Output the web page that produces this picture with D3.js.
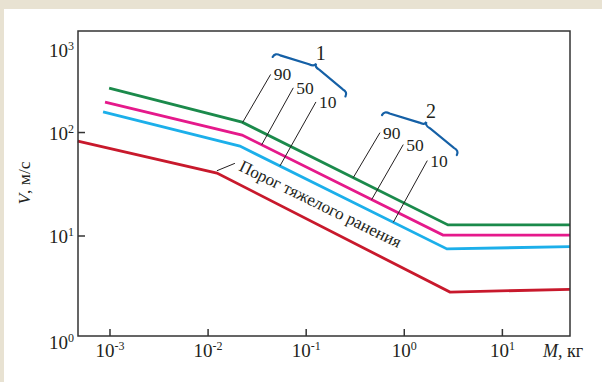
<!DOCTYPE html>
<html>
<head>
<meta charset="utf-8">
<script src="https://cdn.jsdelivr.net/npm/d3@7"></script>
<style>
  body { margin: 0; background: #e8e2d2; }
  svg { display: block; }
  text { font-family: "Liberation Serif", "Times New Roman", serif; fill: #231f20; }
</style>
</head>
<body>
<svg id="chart" width="602" height="382"></svg>
<script>
// mass, kg (x) and speed, m/s (y) for each curve
const mass90 = [0.00098, 0.0222, 2.79, 48.9];
const speed90 = [269, 126, 12.8, 12.8];
const mass50 = [0.00089, 0.0222, 2.48, 48.9];
const speed50 = [197, 94.6, 10.2, 10.2];
const mass10 = [0.00085, 0.0211, 2.72, 48.9];
const speed10 = [158, 74, 7.5, 7.9];
const massThr = [0.00047, 0.0123, 2.92, 48.9];
const speedThr = [82.8, 40.6, 2.87, 3.05];

const xTicks = [1e-3, 1e-2, 1e-1, 1, 10];
const xTickExp = ["-3", "-2", "-1", "0", "1"];
const yTicks = [1, 10, 100, 1000];
const yTickExp = ["0", "1", "2", "3"];

const leaderLabels = ["90", "50", "10"];
const group1Mass = [0.0225, 0.0352, 0.054];
const group2Mass = [0.302, 0.465, 0.773];
const groupNames = ["1", "2"];
const thresholdLabel = "Порог тяжелого ранения";

const margin = {top: 31, right: 32, bottom: 46, left: 78};
const W = 602, H = 382;
const right = W - margin.right, bottom = H - margin.bottom;

const svg = d3.select("#chart");

svg.append("rect").attr("x", 4).attr("y", 9).attr("width", W - 4).attr("height", H - 9)
   .attr("fill", "#ffffff");

const x = d3.scaleLog().domain([4.72e-4, 48.9]).range([margin.left, right]);
const y = d3.scaleLog().domain([1.08, 958]).range([bottom, margin.top]);

const series = [
  {m: mass90, v: speed90, color: "#1b8a4b"},
  {m: mass50, v: speed50, color: "#e5198b"},
  {m: mass10, v: speed10, color: "#1cafea"},
  {m: massThr, v: speedThr, color: "#c8192c"}
];

const line = d3.line().x(d => x(d[0])).y(d => y(d[1]));

svg.selectAll("path.curve")
   .data(series)
   .join("path")
   .attr("class", "curve")
   .attr("d", s => line(d3.zip(s.m, s.v)))
   .attr("fill", "none")
   .attr("stroke", s => s.color)
   .attr("stroke-width", 2.8);

// frame
svg.append("rect")
   .attr("x", margin.left).attr("y", margin.top)
   .attr("width", right - margin.left).attr("height", bottom - margin.top)
   .attr("fill", "none").attr("stroke", "#333").attr("stroke-width", 1.5);

// x ticks (inside) + labels
svg.selectAll("line.xtick").data(xTicks).join("line")
   .attr("x1", d => x(d)).attr("x2", d => x(d))
   .attr("y1", bottom).attr("y2", bottom - 7)
   .attr("stroke", "#333").attr("stroke-width", 1.5);

const xl = svg.selectAll("text.xlab").data(xTicks).join("text")
   .attr("class", "xlab")
   .attr("x", d => x(d)).attr("y", bottom + 21)
   .attr("text-anchor", "middle")
   .style("font-size", "19px");
xl.append("tspan").text("10");
xl.append("tspan").text((d, i) => xTickExp[i]).attr("dy", -7).style("font-size", "12px");

// y ticks, only the inner decades get a mark
svg.selectAll("line.ytick").data(yTicks.filter(d => y(d) < bottom - 1 && y(d) > margin.top + 1)).join("line")
   .attr("x1", margin.left).attr("x2", margin.left + 7)
   .attr("y1", d => y(d)).attr("y2", d => y(d))
   .attr("stroke", "#333").attr("stroke-width", 1.5);

const yl = svg.selectAll("text.ylab").data(yTicks).join("text")
   .attr("class", "ylab")
   .attr("x", margin.left - 4)
   .attr("y", d => y(d) > bottom ? bottom + 13 : Math.max(y(d) + 7, margin.top + 26))
   .attr("text-anchor", "end")
   .style("font-size", "19px");
yl.append("tspan").text("10");
yl.append("tspan").text((d, i) => yTickExp[i]).attr("dy", -7).style("font-size", "12px");

// axis titles
const yt = svg.append("text")
   .attr("transform", "translate(30,183) rotate(-90)")
   .attr("text-anchor", "middle")
   .style("font-size", "17.5px");
yt.append("tspan").text("V").style("font-style", "italic");
yt.append("tspan").text(", м/с");

const xt = svg.append("text")
   .attr("x", 543).attr("y", 357)
   .style("font-size", "18px");
xt.append("tspan").text("M").style("font-style", "italic");
xt.append("tspan").text(", кг");

// value on a curve at mass m (log-log interpolation)
function speedAt(s, m) {
  const lm = Math.log10(m);
  const lx = s.m.map(Math.log10), ly = s.v.map(Math.log10);
  let i = d3.bisectRight(lx, lm) - 1;
  i = Math.max(0, Math.min(i, lx.length - 2));
  const t = (lm - lx[i]) / (lx[i + 1] - lx[i]);
  return Math.pow(10, ly[i] + t * (ly[i + 1] - ly[i]));
}

// leader lines for the two groups
const leaderOffsets = [[28, -48], [31.6, -57], [36, -64]];
const leaderOffsets2 = [[26.7, -45], [31.6, -55], [34, -61.7]];
const groups = [group1Mass, group2Mass];

groups.forEach((gm, g) => {
  const offs = g === 0 ? leaderOffsets : leaderOffsets2;
  const ends = gm.map((m, i) => {
    const px = x(m), py = y(speedAt(series[i], m));
    return {x0: px, y0: py, x1: px + offs[i][0], y1: py + offs[i][1]};
  });
  ends.forEach((e, i) => {
    svg.append("line").attr("x1", e.x0).attr("y1", e.y0).attr("x2", e.x1).attr("y2", e.y1)
       .attr("stroke", "#231f20").attr("stroke-width", 1);
    svg.append("text").attr("x", e.x1 + 3).attr("y", e.y1 + 6)
       .style("font-size", "17.5px").text(leaderLabels[i]);
  });

  // curly brace over the labels
  const A = [ends[0].x1 + 2, ends[0].y1 - 17.5];
  const B = [ends[2].x1 + 29.5, ends[2].y1 - 5.5];
  const L = Math.hypot(B[0] - A[0], B[1] - A[1]);
  const u = [(B[0] - A[0]) / L, (B[1] - A[1]) / L];
  const n = [u[1], -u[0]];
  const h = 5, bow = 6, c = 4, r = 6;
  const P = (t, s) => [A[0] + u[0] * t + n[0] * s, A[1] + u[1] * t + n[1] * s].join(",");
  const mid = L / 2;
  const d = `M${P(0, 0)} Q${P(0, h)} ${P(r, h)} L${P(mid - r, h + bow)} Q${P(mid, h + bow)} ${P(mid, h + bow + c)}`
          + ` Q${P(mid, h + bow)} ${P(mid + r, h + bow)} L${P(L - r, h)} Q${P(L, h)} ${P(L, 0)}`;
  svg.append("path").attr("d", d).attr("fill", "none")
     .attr("stroke", "#1560a6").attr("stroke-width", 2.2).attr("stroke-linecap", "round");
  const tip = [A[0] + u[0] * mid + n[0] * (h + bow + c), A[1] + u[1] * mid + n[1] * (h + bow + c)];
  svg.append("text").attr("x", tip[0] + 4.5).attr("y", tip[1] - 4)
     .attr("text-anchor", "middle").style("font-size", "20px").text(groupNames[g]);
});

// threshold label
const kx = x(massThr[1]), ky = y(speedThr[1]);
svg.append("line").attr("x1", kx).attr("y1", ky - 2.3).attr("x2", kx + 18).attr("y2", ky - 9.7)
   .attr("stroke", "#231f20").attr("stroke-width", 1);
svg.append("text")
   .attr("transform", `translate(${kx + 21},${ky - 3}) rotate(26)`)
   .style("font-size", "17px")
   .text(thresholdLabel);
</script>
</body>
</html>
